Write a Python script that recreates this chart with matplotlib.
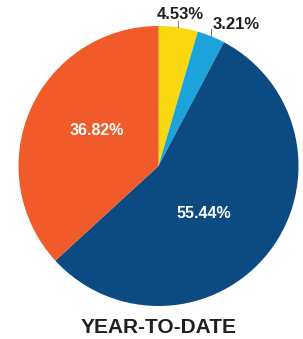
import numpy as np
import matplotlib
matplotlib.use('Agg')
import matplotlib.pyplot as plt

# slice values, clockwise from 12 o'clock
labels = ['4.53%', '3.21%', '55.44%', '36.82%']
values = [4.53, 3.21, 55.44, 36.82]
colors = ['#F9D80F', '#1CA3DC', '#0C4B82', '#F15A29']
title = 'YEAR-TO-DATE'

plt.rcParams['font.family'] = ['Liberation Sans', 'DejaVu Sans']

fig = plt.figure(figsize=(3.03, 3.39), dpi=100)
ax = fig.add_axes([18.5 / 303, 33 / 339, 280 / 303, 280 / 339])

wedges, _ = ax.pie(values, colors=colors, startangle=90, counterclock=False,
                   wedgeprops=dict(edgecolor='none', linewidth=0))
ax.set_xlim(-1, 1)
ax.set_ylim(-1, 1)
ax.set_aspect('equal')
ax.axis('off')

def mid_angle(w):
    return np.deg2rad((w.theta1 + w.theta2) / 2)

# inside labels (white), small angle shifts to match the original layout
inside = {2: (0.47, -8.5), 3: (0.51, -6.5)}
for i, (r, shift) in inside.items():
    a = mid_angle(wedges[i]) + np.deg2rad(shift)
    ax.text(r * np.cos(a), r * np.sin(a), labels[i], color='white',
            fontsize=11.5, fontweight='bold', ha='center', va='center')

# outside labels with short vertical leader lines
outside = {0: ('center', 0.014, 0.043, 0.014), 1: ('left', 0.014, 0.05, 0.0)}
for i, (ha, dx, ln, gap) in outside.items():
    a = mid_angle(wedges[i])
    x0, y0 = np.cos(a), np.sin(a)
    ax.plot([x0, x0], [y0 + 0.003, y0 + ln], color='#777777', lw=0.7,
            clip_on=False)
    ax.text(x0 + dx, y0 + ln + gap, labels[i], color='#231F20',
            fontsize=12, fontweight='bold', ha=ha, va='baseline')

fig.text(158.5 / 303, 6 / 339, title, color='#231F20', fontsize=15,
         fontweight='bold', ha='center', va='baseline')

fig.savefig('out.png', dpi=100)
